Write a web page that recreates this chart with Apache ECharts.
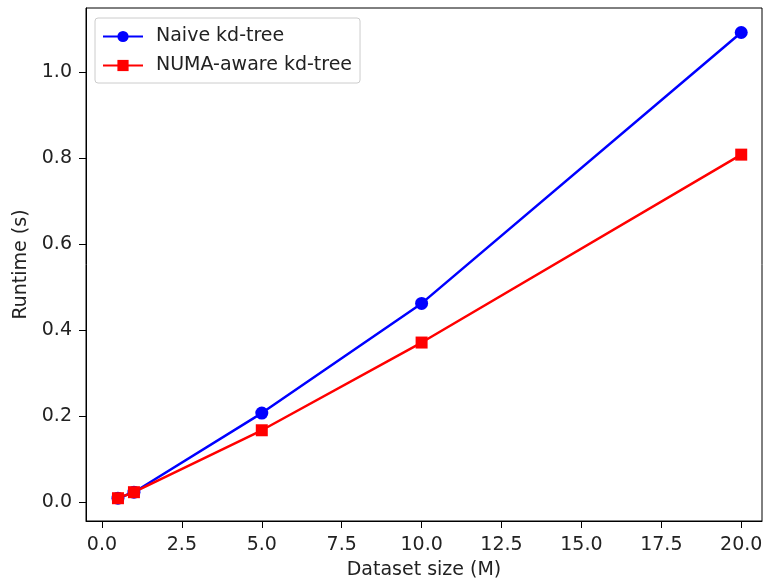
<!DOCTYPE html>
<html>
<head>
<meta charset="utf-8">
<script src="https://cdn.jsdelivr.net/npm/echarts@6/dist/echarts.min.js"></script>
<style>
  html, body { margin: 0; padding: 0; background: #fff; }
  #main { width: 764px; height: 580px; }
</style>
</head>
<body>
<div id="main"></div>
<script>
// dataset sizes (M)
var sizes = [0.5, 1, 5, 10, 20];
// runtime (s)
var naiveRuntime = [0.009, 0.023, 0.207, 0.462, 1.092];
var numaRuntime = [0.009, 0.023, 0.167, 0.371, 0.808];
var xTicks = [0, 2.5, 5, 7.5, 10, 12.5, 15, 17.5, 20];
var yTicks = [0, 0.2, 0.4, 0.6, 0.8, 1.0];

function pairs (xs, ys) {
  var out = [];
  for (var i = 0; i < xs.length; i++) {
    out.push([xs[i], ys[i]]);
  }
  return out;
}

var myChart = echarts.init(document.getElementById('main'));
var font = 'DejaVu Sans';
var txt = '#222';

var option = {
  animation: false,
  grid: {
    left: 86, right: 2, top: 8, bottom: 59,
    outerBoundsMode: 'none',
    show: true, borderColor: '#000', borderWidth: 1, backgroundColor: '#fff'
  },
  legend: {
    orient: 'vertical',
    left: 95, top: 18,
    backgroundColor: '#fff',
    borderColor: '#ccc', borderWidth: 1, borderRadius: 3,
    padding: [9, 8, 8, 7],
    itemGap: 10,
    itemWidth: 40, itemHeight: 14,
    textStyle: { fontFamily: font, fontSize: 19, color: txt, padding: [0, 0, 0, 8] },
    data: ['Naive kd-tree', 'NUMA-aware kd-tree']
  },
  xAxis: {
    type: 'value',
    min: -0.5, max: 20.65,
    name: 'Dataset size (M)',
    nameLocation: 'middle', nameGap: 40,
    nameTextStyle: { fontFamily: font, fontSize: 19, color: txt },
    axisLine: { show: true, onZero: false, lineStyle: { color: '#000' } },
    axisTick: { show: true, length: 7, lineStyle: { color: '#000' }, customValues: xTicks },
    axisLabel: {
      fontFamily: font, fontSize: 19, color: txt, margin: 15,
      customValues: xTicks,
      formatter: function (v) { return v.toFixed(1); }
    },
    splitLine: { show: false }
  },
  yAxis: {
    type: 'value',
    min: -0.044, max: 1.149,
    name: 'Runtime (s)',
    nameLocation: 'middle', nameGap: 52,
    nameTextStyle: { fontFamily: font, fontSize: 19, color: txt },
    axisLine: { show: true, onZero: false, lineStyle: { color: '#000' } },
    axisTick: { show: true, length: 7, lineStyle: { color: '#000' }, customValues: yTicks },
    axisLabel: {
      fontFamily: font, fontSize: 19, color: txt, margin: 14,
      customValues: yTicks,
      formatter: function (v) { return v.toFixed(1); }
    },
    splitLine: { show: false }
  },
  series: [
    {
      name: 'Naive kd-tree',
      type: 'line',
      data: pairs(sizes, naiveRuntime),
      symbol: 'circle', symbolSize: 13,
      lineStyle: { color: '#0000ff', width: 2.5 },
      itemStyle: { color: '#0000ff' }
    },
    {
      name: 'NUMA-aware kd-tree',
      type: 'line',
      data: pairs(sizes, numaRuntime),
      symbol: 'rect', symbolSize: 12,
      lineStyle: { color: '#ff0000', width: 2.5 },
      itemStyle: { color: '#ff0000' }
    }
  ]
};

myChart.setOption(option);
</script>
</body>
</html>
